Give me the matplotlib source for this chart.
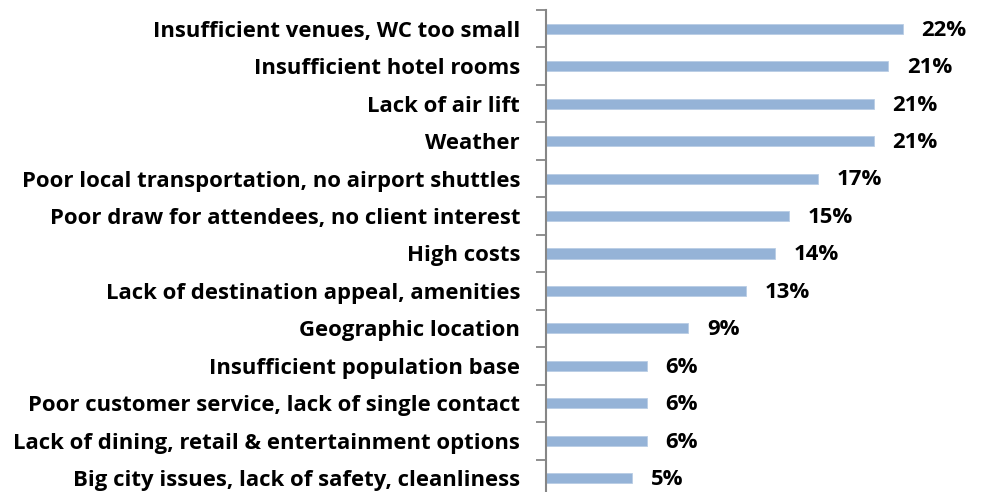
import matplotlib.pyplot as plt
import numpy as np

# Data (percent of respondents, top to bottom)
categories = [
    'Insufficient venues, WC too small',
    'Insufficient hotel rooms',
    'Lack of air lift',
    'Weather',
    'Poor local transportation, no airport shuttles',
    'Poor draw for attendees, no client interest',
    'High costs',
    'Lack of destination appeal, amenities',
    'Geographic location',
    'Insufficient population base',
    'Poor customer service, lack of single contact',
    'Lack of dining, retail & entertainment options',
    'Big city issues, lack of safety, cleanliness',
]
values = [22.3, 21.4, 20.5, 20.5, 17.0, 15.2, 14.3, 12.5, 8.9, 6.3, 6.3, 6.3, 5.4]
value_labels = ['22%', '21%', '21%', '21%', '17%', '15%', '14%', '13%',
                '9%', '6%', '6%', '6%', '5%']

plt.rcParams['font.family'] = ['Open Sans', 'DejaVu Sans']

fig = plt.figure(figsize=(9.84, 4.92), dpi=100)
ax = fig.add_axes([545.7 / 984, -5 / 492, 432 / 984, 487 / 492])

# pick a font size so the longest label is about as wide as in the original
renderer = fig.canvas.get_renderer()
probe = fig.text(0, 0, max(categories, key=len), fontsize=14, fontweight='bold')
w = probe.get_window_extent(renderer).width
probe.remove()
fs = 14 * 500 / w

n = len(categories)
y = np.arange(n)
ax.barh(y, values, height=0.27, color='#95B3D7', edgecolor='#B9CDE5', linewidth=0.6)

ax.set_xlim(0, 27)
ax.set_ylim(n - 0.5, -0.5)

# tick marks at category boundaries, labels at centers
ax.set_yticks(np.arange(-0.5, n, 1.0))
ax.set_yticklabels([])
ax.set_yticks(y, minor=True)
ax.set_yticklabels(categories, minor=True, fontsize=fs, fontweight='bold')
ax.tick_params(axis='y', which='major', length=7, width=1.3, color='#868686', direction='out')
ax.tick_params(axis='y', which='minor', length=0, pad=18.5)

ax.set_xticks([])
for side in ['top', 'right', 'bottom']:
    ax.spines[side].set_visible(False)
ax.spines['left'].set_color('#868686')
ax.spines['left'].set_linewidth(1.5)

for yi, v, lab in zip(y, values, value_labels):
    ax.annotate(lab, (v, yi), xytext=(13.5, -1), textcoords='offset points',
                ha='left', va='center', fontsize=fs, fontweight='bold')

fig.savefig('out.png', dpi=100)
